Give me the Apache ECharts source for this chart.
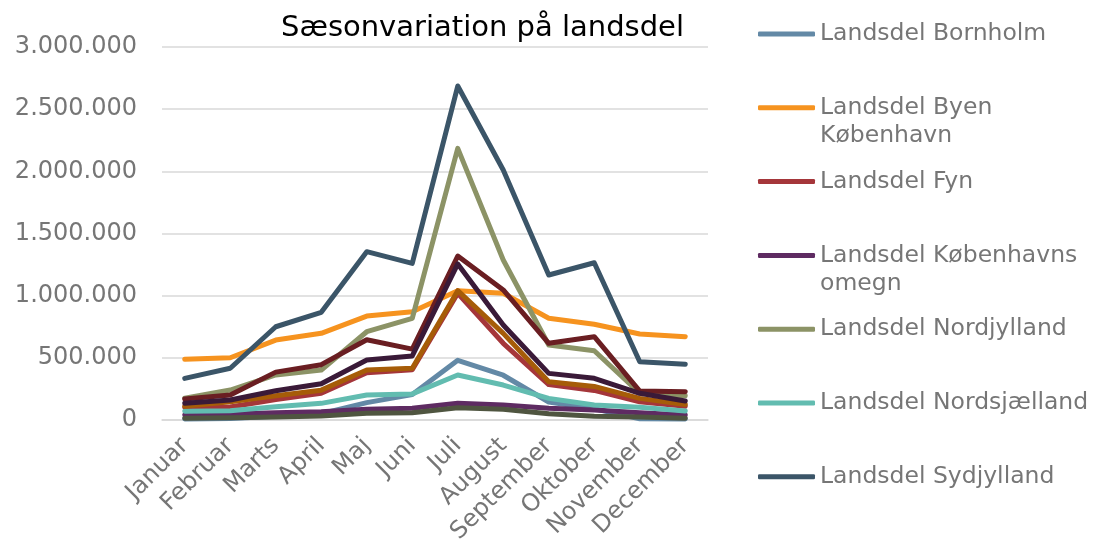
<!DOCTYPE html>
<html>
<head>
<meta charset="utf-8">
<script src="https://cdn.jsdelivr.net/npm/echarts@6/dist/echarts.min.js"></script>
<style>
  html, body { margin: 0; padding: 0; background: #fff; }
  #chart { width: 1095px; height: 543px; }
</style>
</head>
<body>
<div id="chart"></div>
<script>
var myChart = echarts.init(document.getElementById('chart'));

// months on the x axis
var months = ['Januar', 'Februar', 'Marts', 'April', 'Maj', 'Juni', 'Juli',
              'August', 'September', 'Oktober', 'November', 'December'];

// overnatninger pr. måned
var bornholm      = [8000, 12000, 30000, 50000, 140000, 205000, 480000, 360000, 145000, 90000, 10000, 8000];
var byenKbh       = [488000, 501000, 643000, 697000, 836000, 871000, 1040000, 1019000, 818000, 770000, 692000, 670000];
var fyn           = [100000, 105000, 165000, 215000, 380000, 405000, 1019000, 617000, 285000, 238000, 147000, 110000];
var kbhOmegn      = [40000, 48000, 59000, 67000, 86000, 94000, 134000, 121000, 94000, 80000, 59000, 40000];
var nordjylland   = [175000, 241000, 362000, 402000, 710000, 818000, 2185000, 1287000, 603000, 557000, 215000, 195000];
var nordsjaelland = [70000, 75000, 107000, 134000, 201000, 210000, 362000, 281000, 174000, 121000, 102000, 72000];
var sydjylland    = [335000, 416000, 750000, 866000, 1354000, 1260000, 2686000, 2011000, 1166000, 1265000, 469000, 448000];
var vestSydSj     = [110000, 147000, 195000, 240000, 402000, 416000, 1040000, 697000, 308000, 270000, 174000, 125000];
var vestjylland   = [169000, 201000, 385000, 445000, 645000, 570000, 1319000, 1046000, 617000, 670000, 233000, 228000];
var oestjylland   = [134000, 161000, 235000, 292000, 483000, 515000, 1255000, 764000, 375000, 335000, 215000, 153000];
var oestsjaelland = [15000, 18000, 24000, 32000, 54000, 59000, 99000, 86000, 50000, 30000, 24000, 14000];

var seriesNames = ['Landsdel Bornholm', 'Landsdel Byen København', 'Landsdel Fyn',
                   'Landsdel Københavns omegn', 'Landsdel Nordjylland', 'Landsdel Nordsjælland',
                   'Landsdel Sydjylland', 'Landsdel Vest- og Sydsjælland', 'Landsdel Vestjylland',
                   'Landsdel Østjylland', 'Landsdel Østsjælland'];
var seriesData = [bornholm, byenKbh, fyn, kbhOmegn, nordjylland, nordsjaelland,
                  sydjylland, vestSydSj, vestjylland, oestjylland, oestsjaelland];
var colors = ['#6389a6', '#f6931f', '#a5363a', '#5e2b62', '#8c9366', '#62bcb0',
              '#3b5568', '#a65c08', '#6a1e22', '#3a1a38', '#4f5540'];

// only the first seven entries fit in the legend
var legendNames = seriesNames.slice(0, 7);

var font = 'Verdana, "DejaVu Sans", sans-serif';
var grey = '#767676';

function thousands(v) {
    return String(v).replace(/\B(?=(\d{3})+(?!\d))/g, '.');
}

// one legend per entry so the icon lines up with the first text line
var legends = legendNames.map(function (name, i) {
    var wrapped = name.indexOf('Byen ') > -1 || name.indexOf('Københavns ') > -1;
    var center = 34 + i * 73.8;
    return {
        data: [name],
        left: 758,
        top: wrapped ? center - 42 : center - 14,
        icon: 'roundRect',
        itemWidth: 57,
        itemHeight: 5,
        selectedMode: false,
        padding: 0,
        textStyle: {
            color: grey,
            fontFamily: font,
            fontSize: 23.5,
            lineHeight: 28
        },
        formatter: function (n) {
            if (n.indexOf('Byen ') > -1) return '\n' + n.replace('Byen ', 'Byen\n');
            if (n.indexOf('Københavns ') > -1) return '\n' + n.replace('Københavns ', 'Københavns\n');
            return n;
        }
    };
});

option = {
    backgroundColor: '#ffffff',
    animation: false,
    color: colors,
    title: {
        text: 'Sæsonvariation på landsdel',
        left: 276,
        top: 9,
        textStyle: {
            color: '#000000',
            fontFamily: font,
            fontSize: 29,
            fontWeight: 'normal'
        }
    },
    legend: legends,
    grid: {
        left: 162,
        right: 387,
        top: 47,
        bottom: 123,
        containLabel: false,
        outerBoundsMode: 'none'
    },
    xAxis: {
        type: 'category',
        data: months,
        boundaryGap: true,
        axisLine: { lineStyle: { color: '#d9d9d9', width: 1.5 } },
        axisTick: { show: false },
        axisLabel: {
            interval: 0,
            rotate: 45,
            margin: 22,
            color: grey,
            fontFamily: font,
            fontSize: 24
        }
    },
    yAxis: {
        type: 'value',
        min: 0,
        max: 3000000,
        interval: 500000,
        axisLine: { show: false },
        axisTick: { show: false },
        splitLine: { lineStyle: { color: '#d9d9d9', width: 1.5 } },
        axisLabel: {
            margin: 25,
            color: grey,
            fontFamily: font,
            fontSize: 24,
            formatter: thousands
        }
    },
    series: seriesNames.map(function (name, i) {
        return {
            name: name,
            type: 'line',
            data: seriesData[i],
            symbol: 'none',
            lineStyle: { width: 5, cap: 'round', join: 'round', color: colors[i] },
            itemStyle: { color: colors[i] }
        };
    })
};

myChart.setOption(option);
</script>
</body>
</html>
